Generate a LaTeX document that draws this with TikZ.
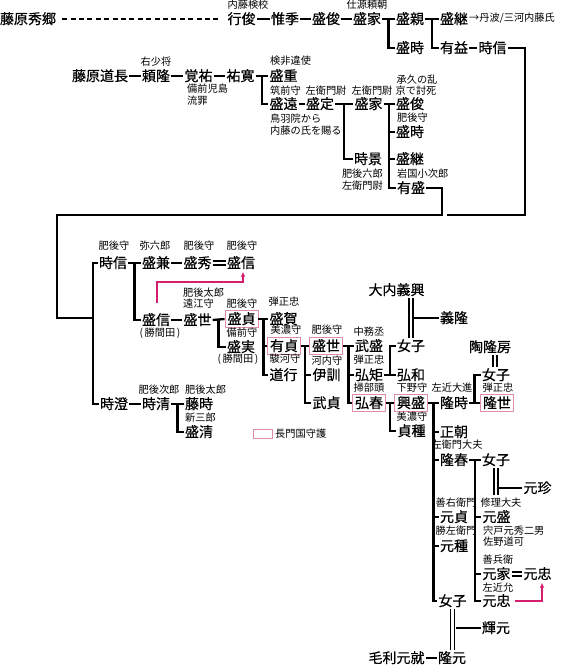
\documentclass[tikz,border=0pt]{standalone}
\usepackage{fontspec}
\usetikzlibrary{calc,arrows.meta}
\newfontfamily\jp{Noto Sans CJK JP}
\newfontfamily\jpb{Noto Sans CJK JP}[FakeBold=0.5]
\definecolor{boxpk}{RGB}{224,140,175}
\definecolor{arrpk}{RGB}{214,30,110}
\begin{document}
\begin{tikzpicture}[x=1pt,y=-1pt,
  nm/.style={font={\jpb\fontsize{14}{14}\selectfont}, inner xsep=1pt, inner ysep=0.5pt, text height=12pt, text depth=2pt},
  sm/.style={font={\jp\fontsize{10.2}{10.2}\selectfont}, inner sep=0pt, text height=9pt, text depth=1.5pt},
  bx/.style={nm, draw=boxpk, line width=0.9pt, inner xsep=2.5pt, inner ysep=1.5pt},
  ln/.style={line width=2.3pt, line join=miter},
  dbl/.style={double, line width=1.3pt, double distance=2.8pt},
  parr/.style={draw=arrpk, line width=1.4pt, -{Stealth[length=5pt,width=4.5pt]}}]
\useasboundingbox[fill=white] (0,0) rectangle (561,666);

% ---------- row A ----------
\node[nm] (a1) at (28,19) {藤原秀郷};
\node[nm] (a2) at (241.5,19) {行俊};
\node[nm] (a3) at (285,19) {惟季};
\node[nm] (a4) at (326,19) {盛俊};
\node[nm] (a5) at (367,19) {盛家};
\node[nm] (a6) at (410,19) {盛親};
\node[nm] (a7) at (454,19) {盛継};
\node[sm,anchor=west] (a8) at (469,18) {→丹波/三河内藤氏};
\node[sm] (la2) at (248,5) {内藤検校};
\node[sm] (la5) at (367,5) {仕源頼朝};
\node[nm] (b1) at (410,48) {盛時};
\node[nm] (b2) at (454,48) {有益};
\node[nm] (b3) at (492.5,48) {時信};

\draw[line width=1.6pt, dash pattern=on 5pt off 3.4pt, shorten <=5pt, shorten >=5pt] (a1.east) -- (a2.west);
\draw[ln] (a2.east) -- (a3.west);
\draw[ln] (a3.east) -- (a4.west);
\draw[ln] (a4.east) -- (a5.west);
\draw[ln] (a5.east) -- (a6.west);
\coordinate (va5) at ($(a5.east)!.5!(a6.west)$);
\draw[ln] (va5) |- (b1.west);
\draw[ln] (a6.east) -- (a7.west);
\coordinate (va6) at ($(a6.east)!.5!(a7.west)$);
\draw[ln] (va6) |- (b2.west);
\draw[ln] (b2.east) -- (b3.west);

% ---------- row C ----------
\node[nm] (c1) at (100,76) {藤原道長};
\node[nm] (c2) at (156,76) {頼隆};
\node[sm] at (156,62) {右少将};
\node[nm] (c3) at (198.5,76) {覚祐};
\node[sm,anchor=west] at (187,89) {備前児島};
\node[sm,anchor=west] at (187,101) {流罪};
\node[nm] (c4) at (240.5,76) {祐寛};
\node[nm] (c5) at (283.5,76) {盛重};
\node[sm,anchor=west] at (270,61) {検非違使};
\node[nm] (c6) at (283.5,104) {盛遠};
\node[sm,anchor=west] at (270,91) {筑前守};
\node[sm,anchor=west] at (270,119) {鳥羽院から};
\node[sm,anchor=west] at (270,131) {内藤の氏を賜る};
\node[nm] (c7) at (320,104) {盛定};
\node[sm] at (326,91) {左衛門尉};
\node[nm] (c8) at (368.5,104) {盛家};
\node[sm] at (372,91) {左衛門尉};
\node[nm] (c9) at (368,159) {時景};
\node[sm,anchor=east] at (383,174) {肥後六郎};
\node[sm,anchor=east] at (383,186) {左衛門尉};
\node[nm] (c10) at (410,104) {盛俊};
\node[sm] at (417,80) {承久の乱};
\node[sm] at (416,91) {京で討死};
\node[nm] (c11) at (410,132) {盛時};
\node[sm,anchor=west] at (397,118) {肥後守};
\node[nm] (c12) at (410,159) {盛継};
\node[nm] (c13) at (411,188) {有盛};
\node[sm,anchor=west] at (397,174) {岩国小次郎};

\draw[ln] (c1.east) -- (c2.west);
\draw[ln] (c2.east) -- (c3.west);
\draw[ln] (c3.east) -- (c4.west);
\draw[ln] (c4.east) -- (c5.west);
\coordinate (vc4) at ($(c4.east)!.5!(c5.west)$);
\draw[ln] (vc4) |- (c6.west);
\draw[ln] (c6.east) -- (c7.west);
\draw[ln] (c7.east) -- (c8.west);
\coordinate (vc7) at ($(c7.east)!.5!(c8.west)$);
\draw[ln] (vc7) |- (c9.west);
\draw[ln] (c8.east) -- (c10.west);
\coordinate (vc8) at ($(c8.east)!.5!(c10.west)$);
\draw[ln] (vc8) |- (c13.west);
\draw[ln] (c11.west -| vc8) -- (c11.west);
\draw[ln] (c12.west -| vc8) -- (c12.west);

% ---------- long feed lines ----------
\coordinate (cR) at (525,215);
\coordinate (cRg) at (447,215);
\coordinate (cM) at (442,215);
\coordinate (cL) at (57,215);
\coordinate (cJ) at (93,318);
\draw[ln] (b3.east) -| (cR) -- (cRg);
\draw[ln] (c13.east) -| (cM) -- (cL) |- (cJ);

% ---------- row D ----------
\node[nm] (d1) at (113,263) {時信};
\node[sm] at (114,246) {肥後守};
\node[nm] (d2) at (156,263) {盛兼};
\node[sm] at (155,246) {弥六郎};
\node[nm] (d3) at (197.5,263) {盛秀};
\node[sm] at (199,246) {肥後守};
\node[nm] (d4) at (241,263) {盛信};
\node[sm] at (242,246) {肥後守};

\node[nm] (e1) at (156,320) {盛信};
\node[sm] at (160,333) {(\,勝間田\,)};
\node[nm] (e2) at (197.5,320) {盛世};
\node[sm,anchor=west] at (183,293) {肥後太郎};
\node[sm,anchor=west] at (183,304) {遠江守};
\node[bx] (e3) at (241.5,319) {盛貞};
\node[sm] at (242,304) {肥後守};
\node[nm] (e4) at (241,347) {盛実};
\node[sm] at (242,333) {備前守};
\node[sm] at (238,359) {(\,勝間田\,)};

\node[nm] (f1) at (283.5,319) {盛賀};
\node[sm] at (284,302) {弾正忠};
\node[bx] (f2) at (284,346) {有貞};
\node[sm] at (286,330) {美濃守};
\node[nm] (f3) at (283.5,375) {道行};
\node[sm] at (285,359) {駿河守};

\node[bx] (g1) at (326,346) {盛世};
\node[sm] at (327,330) {肥後守};
\node[nm] (g2) at (326.5,375) {伊訓};
\node[sm] at (327,361) {河内守};
\node[nm] (g3) at (326.5,403) {武貞};

\node[nm] (h1) at (369,346) {武盛};
\node[sm] at (369,332) {中務丞};
\node[nm] (h2) at (369,375) {弘矩};
\node[sm] at (369,360) {弾正忠};
\node[bx] (h3) at (369,403) {弘春};
\node[sm] at (369,388) {掃部頭};

\node[nm] (i0) at (396.5,290) {大内義興};
\node[nm] (i1) at (411,346) {女子};
\node[nm] (i2) at (411,375) {弘和};
\node[nm] (i3) at (454,318) {義隆};

\node[bx] (j1) at (411,403) {興盛};
\node[sm] at (412,388) {下野守};
\node[nm] (j2) at (411.5,431) {貞種};
\node[sm] at (412,417) {美濃守};

\node[nm] (k1) at (454,403) {隆時};
\node[sm] at (452,388) {左近大進};
\node[nm] (k2) at (490,347) {陶隆房};
\node[nm] (k3) at (496,375) {女子};
\node[bx] (k4) at (497,403) {隆世};
\node[sm] at (498,388) {弾正忠};

\node[nm] (m1) at (454,432) {正朝};
\node[nm] (m2) at (454,460) {隆春};
\node[sm] at (457,445) {左衛門大夫};
\node[nm] (m3) at (454,517) {元貞};
\node[sm] at (456,503) {善右衛門};
\node[nm] (m4) at (454,546) {元種};
\node[sm] at (456,531) {勝左衛門};
\node[nm] (m5) at (452.5,601) {女子};

\node[nm] (n1) at (496,460) {女子};
\node[nm] (n2) at (537.5,488) {元珍};
\node[nm] (n3) at (496.5,517) {元盛};
\node[sm] at (501,503) {修理大夫};
\node[sm,anchor=west] at (483,531) {宍戸元秀二男};
\node[sm,anchor=west] at (483,542) {佐野道可};
\node[nm] (n4) at (496.5,574) {元家};
\node[sm] at (498,560) {善兵衛};
\node[nm] (n5) at (537.5,574) {元忠};
\node[nm] (n6) at (496.5,601) {元忠};
\node[sm] at (498,588) {左近允};

\node[nm] (o1) at (496,628) {輝元};
\node[nm] (o2) at (396.5,658) {毛利元就};
\node[nm] (o3) at (452,658) {隆元};

\node[nm] (p1) at (114,404) {時澄};
\node[nm] (p2) at (156,404) {時清};
\node[sm] at (159,390) {肥後次郎};
\node[nm] (p3) at (199,404) {藤時};
\node[sm,anchor=west] at (185,390) {肥後太郎};
\node[nm] (p4) at (199,432) {盛清};
\node[sm,anchor=west] at (185,418) {新三郎};

% legend
\draw[boxpk, line width=0.9pt] (253,429) rectangle (272,438);
\node[sm,anchor=west] at (275,433.5) {長門国守護};

% ---------- connectors lower ----------
\draw[ln] (d1.west) -- (d1.west -| cJ) -- (p1.west -| cJ) -- (p1.west);
\draw[ln] (d1.east) -- (d2.west);
\coordinate (vd1) at ($(d1.east)!.5!(d2.west)$);
\draw[ln] (vd1) |- (e1.west);
\draw[ln] (d2.east) -- (d3.west);
\draw[dbl] (d3.east) -- (d4.west);

\draw[ln] (p1.east) -- (p2.west);
\draw[ln] (p2.east) -- (p3.west);
\coordinate (vp2) at ($(p2.east)!.5!(p3.west)$);
\draw[ln] (vp2) |- (p4.west);

\draw[ln] (e1.east) -- (e2.west);
\draw[ln] (e2.east) -- (e3.west);
\coordinate (ve2) at ($(e2.east)!.5!(e3.west)$);
\draw[ln] (ve2) |- (e4.west);

\draw[ln] (e3.east) -- (f1.west);
\coordinate (ve3) at ($(e3.east)!.5!(f1.west)$);
\draw[ln] (ve3) |- (f3.west);
\draw[ln] (f2.west -| ve3) -- (f2.west);

\draw[ln] (f2.east) -- (g1.west);
\coordinate (vf2) at ($(f2.east)!.5!(g1.west)$);
\draw[ln] (vf2) |- (g3.west);
\draw[ln] (g2.west -| vf2) -- (g2.west);

\draw[ln] (g1.east) -- (h1.west);
\coordinate (vg1) at ($(g1.east)!.5!(h1.west)$);
\draw[ln] (vg1) |- (h3.west);
\draw[ln] (h2.west -| vg1) -- (h2.west);

\draw[ln] (h2.east) -- (i2.west);
\coordinate (vh2) at ($(h2.east)!.5!(i2.west)$);
\draw[ln] (vh2) |- (i1.west);

\draw[dbl] (i1.north |- i0.south) -- (i1.north);
\draw[ln] (i3.west -| i1.north) ++(3.4,0) -- (i3.west);

\draw[ln] (h3.east) -- (j1.west);
\coordinate (vh3) at ($(h3.east)!.5!(j1.west)$);
\draw[ln] (vh3) |- (j2.west);

\draw[ln] (j1.east) -- (k1.west);
\coordinate (vj1) at ($(j1.east)!.5!(k1.west)$);
\draw[ln] (vj1) |- (m5.west);
\draw[ln] (m1.west -| vj1) -- (m1.west);
\draw[ln] (m2.west -| vj1) -- (m2.west);
\draw[ln] (m3.west -| vj1) -- (m3.west);
\draw[ln] (m4.west -| vj1) -- (m4.west);

\draw[ln] (k1.east) -- (k4.west);
\coordinate (vk1) at ($(k1.east)!.5!(k4.west)$);
\draw[ln] (vk1) |- (k3.west);
\draw[dbl] (k3.north -| k2.south) ++(5,0) -- ($(k2.south)+(5,0)$);

\draw[ln] (m2.east) -- (n1.west);
\coordinate (vm2) at ($(m2.east)!.5!(n1.west)$);
\draw[ln] (vm2) |- (n6.west);
\draw[ln] (n3.west -| vm2) -- (n3.west);
\draw[ln] (n4.west -| vm2) -- (n4.west);

\coordinate (n1e) at ($(n1.south)+(0,27)$);
\draw[dbl] (n1.south) -- (n1e);
\draw[ln] (n2.west -| n1.south) ++(3.4,0) -- (n2.west);
\draw[dbl] (n4.east) -- (n5.west);

\draw[dbl] (m5.south) -- (m5.south |- o3.north);
\draw[ln] (o1.west -| m5.south) ++(3.4,0) -- (o1.west);
\draw[ln] (o2.east) -- (o3.west);

% pink arrows
\draw[parr] ([xshift=1pt,yshift=9.5pt]e1.north) -- ++(0,-21) -| ([xshift=2pt,yshift=-1.5pt]d4.south);
\draw[parr] ([xshift=3pt]n6.east) -| ([xshift=4.5pt,yshift=-1.5pt]n5.south);
\end{tikzpicture}
\end{document}
